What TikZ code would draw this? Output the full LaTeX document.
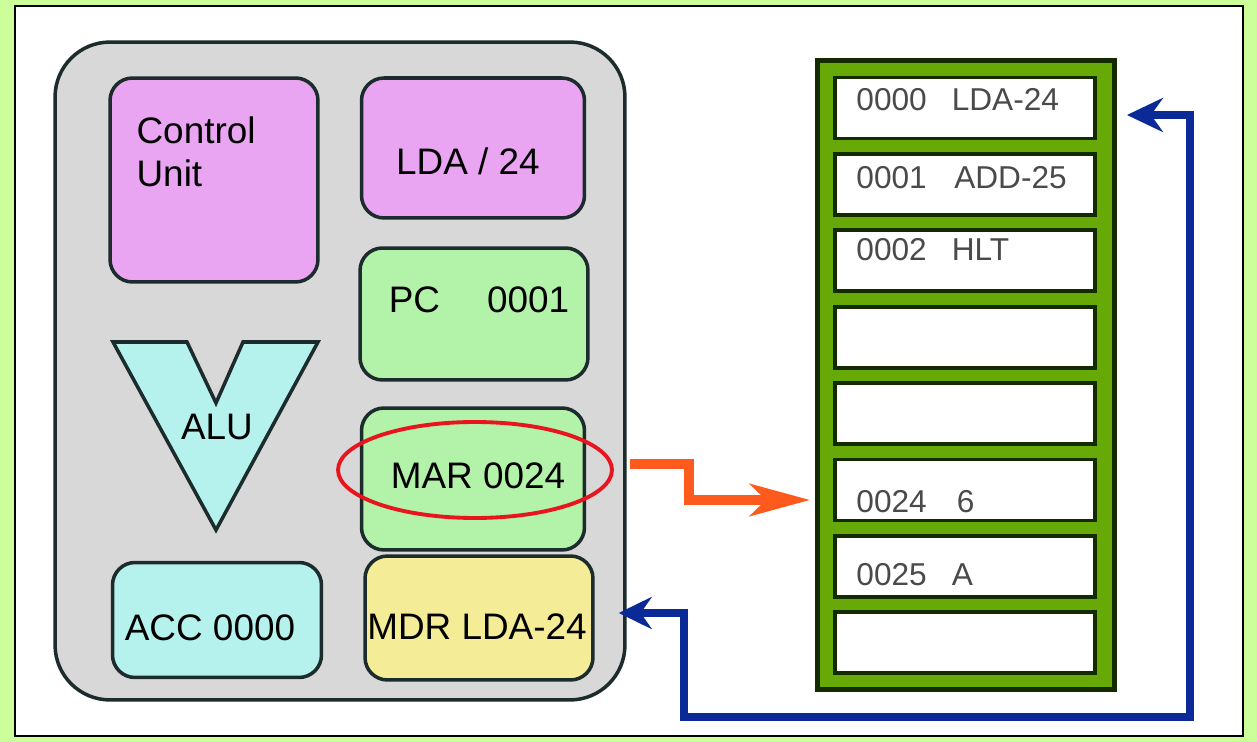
\documentclass[tikz,border=0pt]{standalone}
\usepackage{fontspec}
\setmainfont{Liberation Sans}
\usetikzlibrary{arrows.meta,positioning,calc,shapes.geometric}
\definecolor{pagegreen}{HTML}{CCFF99}
\definecolor{cpugray}{HTML}{D8D8D8}
\definecolor{edgedark}{HTML}{1C2B2B}
\definecolor{cupink}{HTML}{E9A5F1}
\definecolor{regmint}{HTML}{B3F2A9}
\definecolor{alucyan}{HTML}{B5F2EE}
\definecolor{mdryellow}{HTML}{F4EC97}
\definecolor{memgreen}{HTML}{67AA08}
\definecolor{memedge}{HTML}{142B00}
\definecolor{busorange}{HTML}{FF5A1E}
\definecolor{busblue}{HTML}{0B2A98}
\definecolor{ringred}{HTML}{E8141E}
\definecolor{memtextgray}{HTML}{4A4A4A}
\begin{document}
\begin{tikzpicture}[x=0.02cm,y=-0.02cm,
  reg/.style={draw=edgedark,line width=2pt,rounded corners=0.45cm,inner sep=0pt},
  regtext/.style={font=\fontsize{21}{24.5}\selectfont,inner sep=0pt},
  cell/.style={draw=memedge,fill=white,line width=2.2pt,minimum width=5.2cm,minimum height=1.22cm,inner sep=0pt},
  memtext/.style={anchor=west,text=memtextgray,font=\fontsize{18}{21}\selectfont,inner sep=0pt},
  orangebus/.style={draw=busorange,line width=5.5pt,-{Stealth[length=1.2cm,width=0.64cm,inset=0.32cm]}},
  bluebus/.style={draw=busblue,line width=5pt,{Stealth[length=0.72cm,width=0.68cm,inset=0.24cm]}-{Stealth[length=0.66cm,width=0.64cm,inset=0.22cm]}}]
  % page
  \fill[pagegreen] (0,0) rectangle (1257,742);
  \draw[fill=white,line width=1.2pt] (15,6) rectangle (1243,736);
  \useasboundingbox (0,0) rectangle (1257,742);
  % CPU
  \node[draw=edgedark,fill=cpugray,line width=2pt,rounded corners=1.1cm,minimum width=11.4cm,minimum height=13.16cm] (cpu) at (340,371) {};
  \node[reg,fill=cupink,minimum width=4.16cm,minimum height=4.08cm] (cu) at (214,180) {};
  \node[regtext,anchor=north west,align=left] (cutext) at ([xshift=0.56cm,yshift=-0.8cm]cu.north west) {Control\\Unit};
  \node[reg,fill=cupink,minimum width=4.46cm,minimum height=2.8cm] (ir) at (473,148) {};
  \node[regtext] (irtext) at ([xshift=-0.1cm,yshift=-0.26cm]ir.center) {LDA / 24};
  \node[reg,fill=regmint,minimum width=4.56cm,minimum height=2.64cm] (pc) at (474,314) {};
  \node[regtext] (pctext) at ([xshift=0.1cm,yshift=0.28cm]pc.center) {PC\hspace{0.94cm}0001};
  \node[reg,fill=regmint,minimum width=4.46cm,minimum height=2.84cm] (mar) at (473,479) {};
  \node[regtext] (martext) at ([xshift=0.1cm,yshift=0.06cm]mar.center) {MAR 0024};
  \node[reg,fill=alucyan,minimum width=4.18cm,minimum height=2.3cm] (acc) at (217,620) {};
  \node[regtext] (acctext) at ([xshift=-0.14cm,yshift=-0.16cm]acc.center) {ACC 0000};
  \node[reg,fill=mdryellow,minimum width=4.56cm,minimum height=2.48cm] (mdr) at (479,618) {};
  \node[regtext] (mdrtext) at ([xshift=-0.04cm,yshift=-0.18cm]mdr.center) {MDR LDA-24};
  % ALU
  \draw[fill=alucyan,draw=edgedark,line width=2pt] (113,342) -- (187,342) -- (216,403) -- (243,342) -- (318,342) -- (216,530) -- cycle;
  \node[regtext] (alu) at (217,427) {ALU};
  % MAR highlight
  \node[draw=ringred,ellipse,line width=2.2pt,minimum width=5.48cm,minimum height=1.92cm] (ring) at (475,470) {};
  % Memory
  \node[draw=memedge,fill=memgreen,line width=2.8pt,minimum width=5.94cm,minimum height=12.6cm] (mem) at (966,375) {};
  \foreach \i in {0,...,7}
    \node[cell] (m\i) at (965,{108+76.4*\i}) {};
  \node[memtext] (t0) at ([xshift=0.46cm,yshift=0.16cm]m0.west) {0000\hspace{0.5cm}LDA-24};
  \node[memtext] (t1) at ([xshift=0.46cm,yshift=0.14cm]m1.west) {0001\hspace{0.55cm}ADD-25};
  \node[memtext] (t2) at ([xshift=0.46cm,yshift=0.22cm]m2.west) {0002\hspace{0.5cm}HLT};
  \node[memtext] (t5) at ([xshift=0.46cm,yshift=-0.24cm]m5.west) {0024\hspace{0.6cm}6};
  \node[memtext] (t6) at ([xshift=0.46cm,yshift=-0.16cm]m6.west) {0025\hspace{0.5cm}A};
  % Buses
  \coordinate (marout) at ($(cpu.east |- ring.center)+(3,-6)$);
  \coordinate (memaddr) at ($(mem.west |- m5.center)+(-5,10)$);
  \draw[orangebus] (marout) -- ++(59,0) |- (memaddr);
  \coordinate (memdata) at ($(mem.east |- m0.center)+(10,7)$);
  \coordinate (mdrin) at ($(cpu.east |- mdr.center)+(-8,-5)$);
  \draw[bluebus] (memdata) -- ++(63,0) |- (684,717) |- (mdrin);
\end{tikzpicture}
\end{document}
